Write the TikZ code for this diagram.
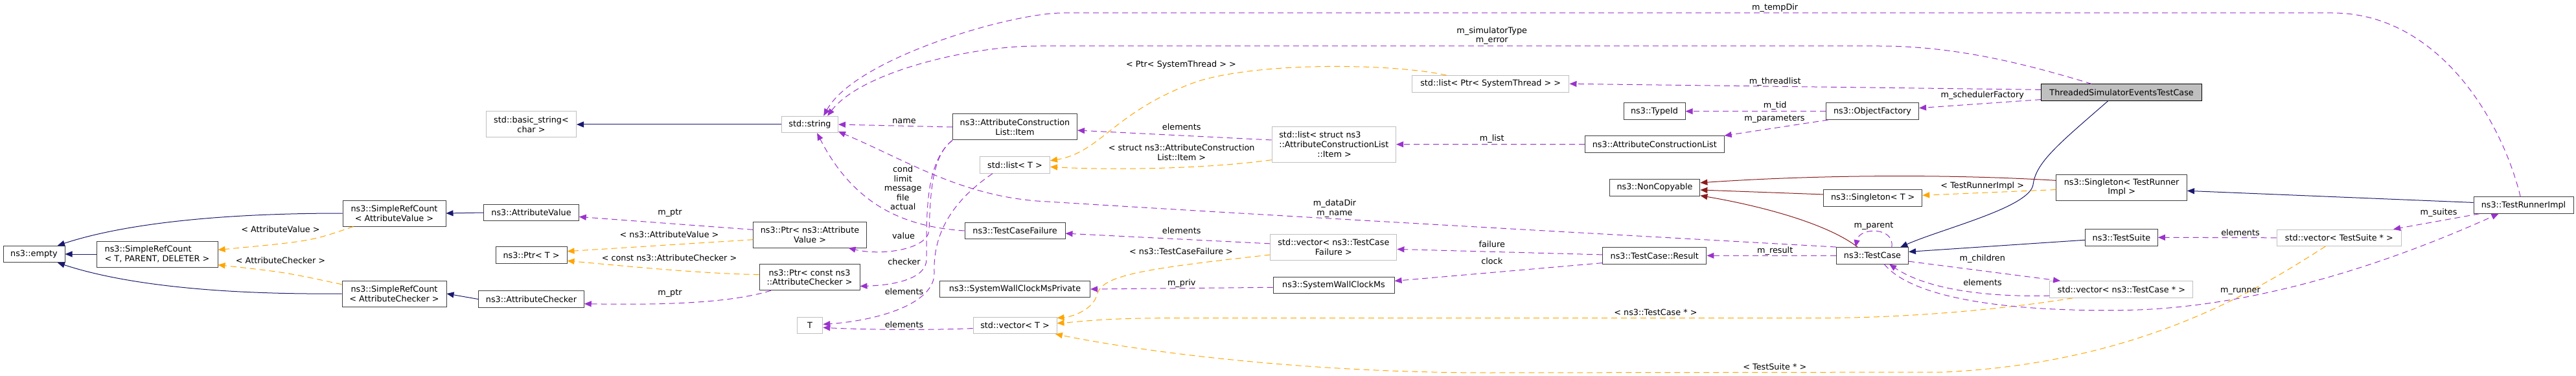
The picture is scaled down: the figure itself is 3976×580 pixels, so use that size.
\documentclass[tikz,border=0pt]{standalone}
\usepackage{fontspec}
\setmainfont{DejaVu Sans}
\usetikzlibrary{arrows.meta}

\definecolor{inhblue}{HTML}{191970}
\definecolor{usepurple}{HTML}{9A32CD}
\definecolor{tmplorange}{HTML}{FFA500}
\definecolor{ncred}{HTML}{8B1A1A}
\definecolor{docgrey}{HTML}{404040}
\definecolor{undocgrey}{HTML}{BFBFBF}

\begin{document}
\begin{tikzpicture}[x=1pt, y=-1pt,
    every node/.style={font=\fontsize{12.8}{14.6}\selectfont},
    cls/.style={draw=docgrey, line width=1pt, inner sep=2pt, align=center, minimum height=25.5pt},
    ext/.style={cls, draw=undocgrey},
    two/.style={minimum height=40pt},
    three/.style={minimum height=55pt},
    lbl/.style={inner sep=0pt, align=center},
    inh/.style={->, color=inhblue, line width=1pt},
    inhnc/.style={->, color=ncred, line width=1pt},
    usage/.style={->, color=usepurple, line width=1pt, dash pattern=on 9pt off 6pt},
    tmpl/.style={->, color=tmplorange, line width=1pt, dash pattern=on 9pt off 6pt},
    >={Triangle[length=11pt, width=9pt]}]
    \useasboundingbox (0,0) rectangle (3976,580);

    \node (empty) at (52.5,392) [cls, minimum width=95pt] {ns3::empty};
    \node (srcTPD) at (242.5,392) [cls, two, align=left, minimum width=187pt] {ns3::SimpleRefCount\\< T, PARENT, DELETER >};
    \node (srcAV) at (608.5,329) [cls, two, minimum width=159pt] {ns3::SimpleRefCount\\< AttributeValue >};
    \node (srcAC) at (608.5,453) [cls, two, minimum width=161pt] {ns3::SimpleRefCount\\< AttributeChecker >};
    \node (basicstr) at (820,192) [ext, two, minimum width=139pt] {std::basic\_string<\\char >};
    \node (attrval) at (820,328) [cls, minimum width=146.5pt] {ns3::AttributeValue};
    \node (ptrT) at (820,393.5) [cls, minimum width=110pt] {ns3::Ptr< T >};
    \node (attrchk) at (820,461.5) [cls, minimum width=162.5pt] {ns3::AttributeChecker};
    \node (stdstr) at (1250,192) [ext, minimum width=87pt] {std::string};
    \node (ptrAV) at (1250,362) [cls, two, minimum width=174.5pt] {ns3::Ptr< ns3::Attribute\\Value >};
    \node (ptrAC) at (1249.5,427.7) [cls, two, minimum width=155pt] {ns3::Ptr< const ns3\\::AttributeChecker >};
    \node (tT) at (1250,502) [ext, minimum width=39.6pt] {T};
    \node (item) at (1566.5,196) [cls, two, minimum width=192pt] {ns3::AttributeConstruction\\List::Item};
    \node (listT) at (1566.5,254.5) [ext, minimum width=108pt] {std::list< T >};
    \node (tcfail) at (1566.5,356) [cls, minimum width=155pt] {ns3::TestCaseFailure};
    \node (swcpriv) at (1566.5,446) [cls, minimum width=232pt] {ns3::SystemWallClockMsPrivate};
    \node (vecT) at (1566.5,502) [ext, minimum width=129pt] {std::vector< T >};
    \node (liststruct) at (2058.8,222.7) [ext, three, align=left, minimum width=191.5pt] {std::list< struct ns3\\::AttributeConstructionList\\\hspace*{59pt}::Item >};
    \node (vectcf) at (2058.4,381) [ext, two, minimum width=195pt] {std::vector< ns3::TestCase\\Failure >};
    \node (swcms) at (2058.5,440) [cls, minimum width=187pt] {ns3::SystemWallClockMs};
    \node (listpst) at (2300.7,129.3) [ext, minimum width=242.5pt] {std::list< Ptr< SystemThread > >};
    \node (typeid) at (2553.5,171.7) [cls, minimum width=95pt] {ns3::TypeId};
    \node (acl) at (2553.8,222.5) [cls, minimum width=214.6pt] {ns3::AttributeConstructionList};
    \node (noncopy) at (2554,289.3) [cls, minimum width=139.7pt] {ns3::NonCopyable};
    \node (result) at (2553.8,394.3) [cls, minimum width=160.3pt] {ns3::TestCase::Result};
    \node (objfac) at (2890,171.7) [cls, minimum width=143pt] {ns3::ObjectFactory};
    \node (singT) at (2890.7,305.3) [cls, minimum width=152pt] {ns3::Singleton< T >};
    \node (testcase) at (2890,394.3) [cls, minimum width=111pt] {ns3::TestCase};
    \node (threaded) at (3274.6,142.7) [cls, draw=black, fill=undocgrey, minimum width=248.4pt] {ThreadedSimulatorEventsTestCase};
    \node (singTRI) at (3274.6,289) [cls, two, minimum width=201.6pt] {ns3::Singleton< TestRunner\\Impl >};
    \node (testsuite) at (3274.4,366.3) [cls, minimum width=111.8pt] {ns3::TestSuite};
    \node (vectc) at (3274.4,446.5) [ext, minimum width=221pt] {std::vector< ns3::TestCase * >};
    \node (vects) at (3610.4,366.8) [ext, minimum width=192.7pt] {std::vector< TestSuite * >};
    \node (runner) at (3895,316.5) [cls, minimum width=154pt] {ns3::TestRunnerImpl};

    \draw [inh] (srcAV.west) .. controls (300,329) and (170,352) .. (empty.20);
    \draw [inh] (srcTPD.west) -- (empty.east);
    \draw [inh] (srcAC.west) .. controls (300,455) and (170,432) .. (empty.-20);
    \draw [inh] (attrval.west) -- (srcAV.east);
    \draw [inh] (attrchk.west) -- (srcAC.east);
    \draw [inh] (stdstr.west) -- (basicstr.east);
    \draw [inh] (threaded.-148) .. controls (3180,220) and (3142,250) .. (3138,285) .. controls (3132,320) and (3000,352) .. (testcase.17);
    \draw [inh] (testsuite.184) -- (testcase.6);
    \draw [inh] (runner.177) -- (singTRI.-3);
    \draw [inhnc] (singTRI.174) .. controls (3000,268) and (2800,270) .. (noncopy.6);
    \draw [inhnc] (singT.176) -- (noncopy.-3);
    \draw [inhnc] (testcase.150) .. controls (2820,345) and (2720,318) .. (noncopy.-10);

    \draw [tmpl] (srcAV.-162) .. controls (480,372) .. (srcTPD.4);
    \draw [tmpl] (srcAC.170) .. controls (440,420) .. (srcTPD.-10);
    \draw [tmpl] (ptrAV.185) -- (ptrT.6);
    \draw [tmpl] (ptrAC.177) .. controls (1080,422) and (960,410) .. (ptrT.-9);
    \draw [tmpl] (liststruct.194) .. controls (1850,262) and (1700,262) .. (listT.-3);
    \draw [tmpl] (listpst.169) .. controls (2150,98) and (1950,95) .. (1850,125) .. controls (1720,170) and (1700,235) .. (listT.7);
    \draw [tmpl] (vectcf.187) .. controls (1760,415) and (1700,425) .. (1693,455) .. controls (1688,475) and (1660,488) .. (vecT.10);
    \draw [tmpl] (vectc.-170) .. controls (3100,476) and (2950,490.7) .. (2800,490.7) -- (1800,490.7) .. controls (1700,490.7) and (1660,497) .. (vecT.3);
    \draw [tmpl] (vects.-148) .. controls (3480,450) and (3300,560) .. (3000,574) -- (2300,575) .. controls (2000,575) and (1750,540) .. (vecT.-12);
    \draw [tmpl] (singTRI.182) -- (singT.3);

    \draw [usage] (ptrAV.175) -- (attrval.-5);
    \draw [usage] (ptrAC.-161) .. controls (1120,470) and (1000,470) .. (attrchk.-5);
    \draw [usage] (item.west) -- (stdstr.east);
    \draw [usage] (tcfail.west) .. controls (1400,350) and (1320,320) .. (stdstr.-50);
    \draw [usage] (testcase.north west) .. controls (2600,368) and (2000,335) .. (1600,310) .. controls (1480,300) and (1400,248) .. (stdstr.-14);
    \draw [usage] (threaded.164) .. controls (3100,90) and (3000,71) .. (2900,71) -- (1600,71) .. controls (1500,71) and (1330,110) .. (stdstr.26);
    \draw [usage] (runner.110) .. controls (3860,180) and (3760,20) .. (3600,20) -- (1640,20) .. controls (1560,20) and (1320,90) .. (stdstr.32);
    \draw [usage] (item.south west) .. controls (1438,240) and (1436,300) .. (1434,355) .. controls (1432,385) and (1360,395) .. (ptrAV.-19);
    \draw [usage] (item.south west) .. controls (1428,250) and (1430,330) .. (1430,400) .. controls (1430,430) and (1380,440) .. (ptrAC.-10);
    \draw [usage] (listT.-159) .. controls (1470,310) and (1440,360) .. (1442,420) .. controls (1444,470) and (1350,495) .. (tT.5);
    \draw [usage] (vecT.184) .. controls (1420,510) and (1320,508) .. (tT.-9);
    \draw [usage] (liststruct.176) -- (item.-3);
    \draw [usage] (vectcf.177) -- (tcfail.-3);
    \draw [usage] (swcms.182) -- (swcpriv.east);
    \draw [usage] (acl.west) -- (liststruct.east);
    \draw [usage] (objfac.-169) -- (acl.north east);
    \draw [usage] (objfac.west) -- (typeid.east);
    \draw [usage] (threaded.178) -- (listpst.east);
    \draw [usage] (threaded.185) -- (objfac.4);
    \draw [usage] (testcase.west) -- (result.east);
    \draw [usage] (result.179) -- (vectcf.-2);
    \draw [usage] (result.188) -- (swcms.4);
    \draw [usage] (testcase.24) .. controls (2925,350) and (2870,350) .. (testcase.153);
    \draw [usage] (testcase.-9) -- (vectc.172);
    \draw [usage] (vectc.185) .. controls (3080,458) and (2980,450) .. (testcase.-27);
    \draw [usage] (testcase.-36) .. controls (2960,470) and (3150,482) .. (3300,478) .. controls (3500,470) and (3700,400) .. (runner.-161);
    \draw [usage] (vects.west) -- (testsuite.east);
    \draw [usage] (runner.-169) -- (vects.9);

    \node (lAVt) at (433,354) [lbl] {< AttributeValue >};
    \node (lACt) at (433,402) [lbl] {< AttributeChecker >};
    \node (lptrA) at (1034,329) [lbl] {m\_ptr};
    \node (lptrAV) at (1033,362) [lbl] {< ns3::AttributeValue >};
    \node (lptrAC) at (1033,398) [lbl] {< const ns3::AttributeChecker >};
    \node (lptrB) at (1034,453) [lbl] {m\_ptr};
    \node (lname) at (1395.5,187) [lbl] {name};
    \node (lcond) at (1393.7,290) [lbl] {cond\\limit\\message\\file\\actual};
    \node (lvalue) at (1394.6,363.7) [lbl] {value};
    \node (lchecker) at (1395.5,403.7) [lbl] {checker};
    \node (lelemA) at (1395.5,450) [lbl] {elements};
    \node (lelemB) at (1395.5,500.7) [lbl] {elements};
    \node (lpst) at (1823,100) [lbl] {< Ptr< SystemThread > >};
    \node (lelemItem) at (1823.7,195.7) [lbl] {elements};
    \node (lstruct) at (1823.7,235) [lbl] {< struct ns3::AttributeConstruction\\List::Item >};
    \node (lelemTCF) at (1823.7,355.3) [lbl] {elements};
    \node (ltcf) at (1823,387.3) [lbl] {< ns3::TestCaseFailure >};
    \node (lpriv) at (1823.7,436.7) [lbl] {m\_priv};
    \node (ldata) at (2060,321.5) [lbl] {m\_dataDir\\m\_name};
    \node (lsim) at (2302.7,55.2) [lbl] {m\_simulatorType\\m\_error};
    \node (llist) at (2302.7,214) [lbl] {m\_list};
    \node (lfail) at (2302.7,376.7) [lbl] {failure};
    \node (lclock) at (2302.7,402.3) [lbl] {clock};
    \node (ltemp) at (2739.7,11.7) [lbl] {m\_tempDir};
    \node (lthread) at (2739.7,126.3) [lbl] {m\_threadlist};
    \node (ltid) at (2739.7,163.3) [lbl] {m\_tid};
    \node (lparam) at (2739,183.7) [lbl] {m\_parameters};
    \node (lresult) at (2739.7,386.7) [lbl] {m\_result};
    \node (ltcs) at (2555.4,482.3) [lbl] {< ns3::TestCase * >};
    \node (lts) at (2739.3,566) [lbl] {< TestSuite * >};
    \node (lsched) at (3059.7,146.7) [lbl] {m\_schedulerFactory};
    \node (ltri) at (3059.7,287.3) [lbl] {< TestRunnerImpl >};
    \node (lparent) at (2892,349) [lbl] {m\_parent};
    \node (lchildren) at (3059.7,399.3) [lbl] {m\_children};
    \node (lelemTC) at (3060,435.3) [lbl] {elements};
    \node (lelemTS) at (3458,358.5) [lbl] {elements};
    \node (lsuites) at (3764,328) [lbl] {m\_suites};
    \node (lrunner) at (3458,449.3) [lbl] {m\_runner};
\end{tikzpicture}
\end{document}
